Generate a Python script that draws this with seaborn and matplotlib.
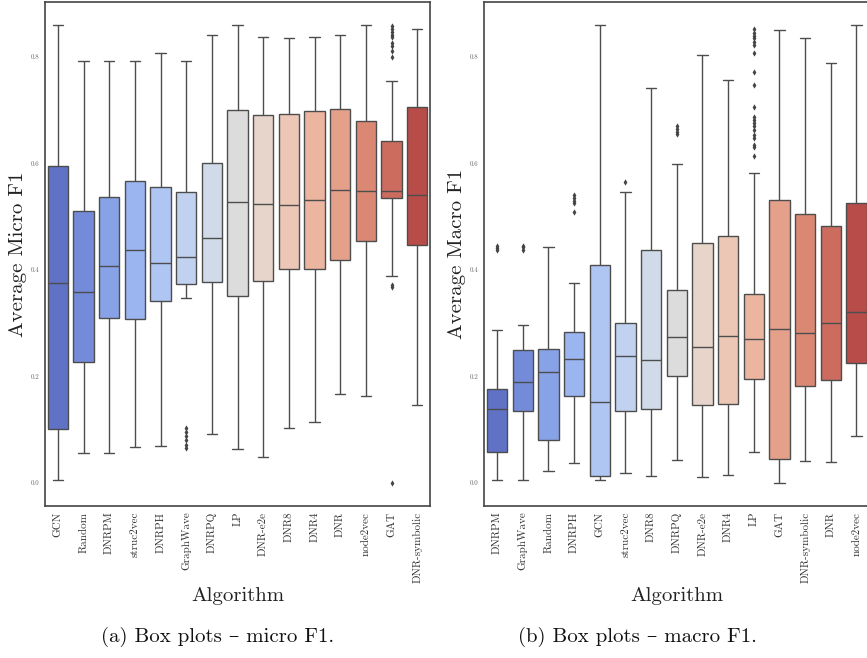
import numpy as np
import pandas as pd
import matplotlib
matplotlib.use("Agg")
import matplotlib.pyplot as plt
import seaborn as sns

# ---------------- data: (a) micro F1 ----------------
micro_algos = ["GCN", "Random", "DNRPM", "struc2vec", "DNRPH", "GraphWave", "DNRPQ",
               "LP", "DNR-e2e", "DNR8", "DNR4", "DNR", "node2vec", "GAT", "DNR-symbolic"]
micro_whislo = [0.005, 0.057, 0.056, 0.067, 0.069, 0.347, 0.092, 0.064, 0.049, 0.104, 0.115, 0.168, 0.164, 0.389, 0.147]
micro_q1 = [0.102, 0.227, 0.309, 0.307, 0.341, 0.374, 0.378, 0.351, 0.380, 0.401, 0.401, 0.418, 0.454, 0.534, 0.447]
micro_med = [0.376, 0.358, 0.407, 0.437, 0.412, 0.425, 0.459, 0.527, 0.524, 0.522, 0.531, 0.549, 0.548, 0.547, 0.541]
micro_q3 = [0.594, 0.510, 0.537, 0.567, 0.556, 0.546, 0.600, 0.700, 0.691, 0.692, 0.698, 0.701, 0.680, 0.641, 0.705]
micro_whishi = [0.860, 0.792, 0.792, 0.792, 0.806, 0.792, 0.840, 0.860, 0.836, 0.834, 0.837, 0.841, 0.860, 0.754, 0.852]
micro_outliers = {
    "GraphWave": [0.065, 0.072, 0.080, 0.088, 0.096, 0.104],
    "GAT": [0.857, 0.851, 0.846, 0.841, 0.836, 0.826, 0.820, 0.811, 0.800, 0.372, 0.368, 0.0],
}

# ---------------- data: (b) macro F1 ----------------
macro_algos = ["DNRPM", "GraphWave", "Random", "DNRPH", "GCN", "struc2vec", "DNR8", "DNRPQ",
               "DNR-e2e", "DNR4", "LP", "GAT", "DNR-symbolic", "DNR", "node2vec"]
macro_whislo = [0.005, 0.005, 0.022, 0.038, 0.005, 0.019, 0.014, 0.043, 0.011, 0.015, 0.059, 0.0, 0.041, 0.039, 0.088]
macro_q1 = [0.059, 0.135, 0.080, 0.163, 0.013, 0.136, 0.139, 0.201, 0.147, 0.149, 0.195, 0.046, 0.183, 0.193, 0.226]
macro_med = [0.139, 0.190, 0.208, 0.233, 0.153, 0.238, 0.230, 0.274, 0.255, 0.276, 0.271, 0.289, 0.281, 0.300, 0.320]
macro_q3 = [0.177, 0.249, 0.251, 0.284, 0.410, 0.301, 0.438, 0.363, 0.451, 0.464, 0.354, 0.531, 0.504, 0.482, 0.525]
macro_whishi = [0.288, 0.296, 0.443, 0.376, 0.860, 0.546, 0.741, 0.599, 0.803, 0.757, 0.582, 0.849, 0.835, 0.788, 0.860]
macro_outliers = {
    "DNRPM": [0.437, 0.441, 0.445],
    "GraphWave": [0.438, 0.442, 0.445],
    "DNRPH": [0.509, 0.525, 0.530, 0.535, 0.540],
    "struc2vec": [0.565],
    "DNRPQ": [0.654, 0.659, 0.664, 0.670],
    "LP": [0.851, 0.844, 0.839, 0.834, 0.828, 0.822, 0.806, 0.772, 0.746, 0.705, 0.687,
           0.681, 0.675, 0.669, 0.662, 0.653, 0.647, 0.634, 0.631, 0.614],
}

FONT = ["cmr10", "DejaVu Serif"]


def long_frame(algos, lo, q1, med, q3, hi):
    rows = []
    for a, v0, v1, v2, v3, v4 in zip(algos, lo, q1, med, q3, hi):
        for v in (v0, v1, v2, v3, v4):
            rows.append({"Algorithm": a, "value": v})
    return pd.DataFrame(rows)


def outlier_frame(outs):
    rows = [{"Algorithm": a, "value": v} for a, vals in outs.items() for v in vals]
    return pd.DataFrame(rows)


sns.set_theme(style="white")
plt.rcParams["font.family"] = FONT
plt.rcParams["axes.formatter.use_mathtext"] = True

fig = plt.figure(figsize=(8.67, 6.58), dpi=100)
W, H = 867, 658
ax1 = fig.add_axes([45 / W, (H - 506) / H, 385 / W, 504.3 / H])
ax2 = fig.add_axes([484.3 / W, (H - 506) / H, 385 / W, 504.3 / H])

panels = [
    (ax1, micro_algos, micro_whislo, micro_q1, micro_med, micro_q3, micro_whishi, micro_outliers, "Average Micro F1"),
    (ax2, macro_algos, macro_whislo, macro_q1, macro_med, macro_q3, macro_whishi, macro_outliers, "Average Macro F1"),
]

for ax, algos, lo, q1, med, q3, hi, outs, ylab in panels:
    df = long_frame(algos, lo, q1, med, q3, hi)
    sns.boxplot(data=df, x="Algorithm", y="value", order=algos, hue="Algorithm",
                hue_order=algos, palette="coolwarm", legend=False, whis=(0, 100),
                linewidth=1.0, ax=ax)
    sns.stripplot(data=outlier_frame(outs), x="Algorithm", y="value", order=algos,
                  jitter=False, marker="d", color="#444444", size=3.2, ax=ax)
    ax.set_xlim(-0.5, len(algos) - 0.5)
    ax.set_ylim(-0.043, 0.903)
    ax.set_yticks([0.0, 0.2, 0.4, 0.6, 0.8])
    ax.set_yticklabels(["0.0", "0.2", "0.4", "0.6", "0.8"], fontsize=5, color="#666666")
    ax.set_xticks(range(len(algos)))
    ax.set_xticklabels(algos, rotation=90, fontsize=8, color="#333333")
    ax.tick_params(axis="both", length=0, pad=4)
    ax.set_xlabel("Algorithm", fontsize=15, labelpad=3, color="#222222")
    ax.set_ylabel(ylab, fontsize=15, labelpad=3, color="#222222")
    for s in ax.spines.values():
        s.set_visible(True)
        s.set_color("#444444")
        s.set_linewidth(1.2)

fig.text(218 / W, 1 - 637 / H, "(a) Box plots – micro F1.", ha="center", va="center",
         fontsize=15, family=FONT, color="#111111")
fig.text(637 / W, 1 - 637 / H, "(b) Box plots – macro F1.", ha="center", va="center",
         fontsize=15, family=FONT, color="#111111")

fig.savefig("out.png", dpi=100)
